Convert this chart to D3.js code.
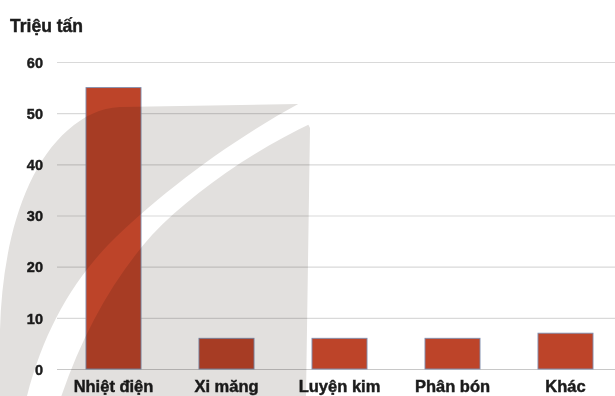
<!DOCTYPE html>
<html>
<head>
<meta charset="utf-8">
<script src="https://cdn.jsdelivr.net/npm/d3@7"></script>
<style>
  html, body { margin: 0; padding: 0; background: #fff; }
  svg { display: block; }
  text { font-family: "Liberation Sans", Arial, sans-serif; font-weight: bold; fill: #1c1c1c; }
</style>
</head>
<body>
<svg id="chart" width="615" height="396"></svg>
<script>
// Lượng sử dụng than theo ngành (triệu tấn)
const categories = ["Nhiệt điện", "Xi măng", "Luyện kim", "Phân bón", "Khác"];
const values = [55, 6, 6, 6, 7];
const yTicks = [0, 10, 20, 30, 40, 50, 60];
const unitLabel = "Triệu tấn";

const W = 615, H = 396;
const svg = d3.select("#chart");

const y = d3.scaleLinear().domain([0, 60]).range([369, 62]);
const x = d3.scaleBand().domain(categories).range([57, 622])
  .paddingInner(0.513).paddingOuter(0.2565);

// heavy text look
const heavy = sel => sel.attr("fill", "#1c1c1c").attr("stroke", "#1c1c1c")
  .attr("stroke-width", 0.45).style("font-family", "'Liberation Sans', Arial, sans-serif");

// unit label
svg.append("text").attr("x", 10).attr("y", 32)
  .style("font-size", "17.5px").text(unitLabel).call(heavy);

// gridlines
svg.append("g").selectAll("line").data(yTicks).join("line")
  .attr("x1", 57).attr("x2", W)
  .attr("y1", d => y(d) + 0.5).attr("y2", d => y(d) + 0.5)
  .attr("stroke", d => d === 0 ? "#c8c8c8" : "#d9d9d9")
  .attr("stroke-width", 1.2);

// y axis labels
const yAxis = d3.axisLeft(y).tickValues(yTicks).tickSize(0).tickPadding(0);
const yg = svg.append("g").attr("transform", "translate(43,0)").call(yAxis);
yg.select(".domain").remove();
yg.selectAll("text").style("font-size", "14.5px").attr("dy", "0.36em").call(heavy);

// bars
svg.append("g").selectAll("rect").data(values).join("rect")
  .attr("x", (d, i) => x(categories[i]))
  .attr("width", x.bandwidth())
  .attr("y", d => y(d))
  .attr("height", d => y(0) - y(d))
  .attr("fill", "#bd4429")
  .attr("stroke", "#7f8fb0")
  .attr("stroke-width", 0.9);

// category labels
const xAxis = d3.axisBottom(x).tickSize(0).tickPadding(0);
const xg = svg.append("g").attr("transform", "translate(0,380)").call(xAxis);
xg.select(".domain").remove();
xg.selectAll("text").style("font-size", "16.5px").attr("dy", "0.71em").call(heavy);

// background leaf emblem, blended over the plot
const defs = svg.append("defs");
const mask = defs.append("mask").attr("id", "leafCut");
mask.append("rect").attr("width", W).attr("height", H).attr("fill", "#fff");
mask.append("path").attr("fill", "#000")
  .attr("d", "M 26,400 C 42,335 70,285 108,245 C 158,195 228,142 300,103 L 314,122 C 250,152 190,195 152,235 C 112,280 82,335 60,400 Z");

svg.append("path")
  .attr("mask", "url(#leafCut)")
  .attr("d", "M 0,396 L 0,330 C 2,250 22,170 68,130 C 84,116 100,108 120,107 L 298,104 L 310,128 L 306,396 Z")
  .attr("fill", "#e2e0de")
  .style("mix-blend-mode", "multiply");
</script>
</body>
</html>
